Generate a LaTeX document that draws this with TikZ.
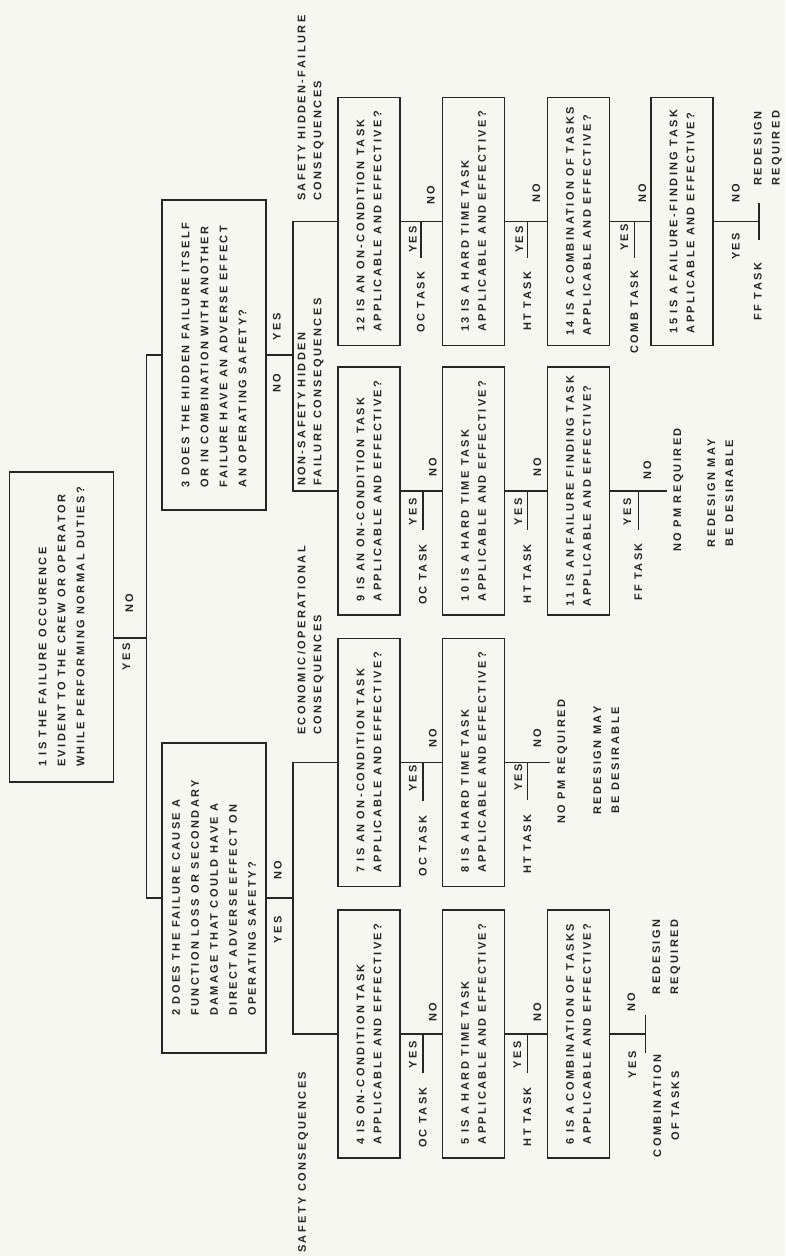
\documentclass[tikz,border=0pt]{standalone}
\usepackage{fontspec}
\newfontfamily\rcmfont[LetterSpace=22]{Liberation Sans Bold}

\begin{document}
\begin{tikzpicture}[x=1pt,y=1pt,
  qbox/.style={draw=drawColor,line width=1.8pt,text=drawColor,rotate=90,align=left,
    font=\rcmfont\fontsize{11}{19}\selectfont,inner sep=0pt,
    minimum width=310pt,minimum height=104pt},
  tbox/.style={draw=drawColor,line width=1.8pt,text=drawColor,rotate=90,align=left,
    font=\rcmfont\fontsize{11}{17}\selectfont,inner sep=0pt,
    minimum width=248pt,minimum height=62pt},
  lbl/.style={text=drawColor,rotate=90,inner sep=0pt,
    font=\rcmfont\fontsize{11}{16}\selectfont},
  outc/.style={lbl,align=center,font=\rcmfont\fontsize{11}{18}\selectfont},
  wire/.style={draw=drawColor,line width=1.8pt}]
\definecolor{fillColor}{RGB}{247,247,242}
\definecolor{drawColor}{RGB}{38,38,38}
\path[use as bounding box,fill=fillColor] (0,0) rectangle (785,1256);

% questions
\node[qbox] (q1) at ( 61.5,629) {1 IS THE FAILURE OCCURENCE\\EVIDENT TO THE CREW OR OPERATOR\\WHILE PERFORMING NORMAL DUTIES?};
\node[qbox] (q2) at (214,358) {2 DOES THE FAILURE CAUSE A\\FUNCTION LOSS OR SECONDARY\\DAMAGE THAT COULD HAVE A\\DIRECT ADVERSE EFFECT ON\\OPERATING SAFETY?};
\node[qbox] (q3) at (214,901) {3 DOES THE HIDDEN FAILURE ITSELF\\OR IN COMBINATION WITH ANOTHER\\FAILURE HAVE AN ADVERSE EFFECT\\AN OPERATING SAFETY?};

% headings
\node[lbl,anchor=west] (hA) at (303,3) {SAFETY CONSEQUENCES};
\node[lbl,anchor=west,align=left] (hB) at (310.5,521) {ECONOMIC/OPERATIONAL\\CONSEQUENCES};
\node[lbl,anchor=west,align=left] (hC) at (310.5,770) {NON-SAFETY HIDDEN\\FAILURE CONSEQUENCES};
\node[lbl,anchor=west,align=left] (hD) at (310.5,1055) {SAFETY HIDDEN-FAILURE\\CONSEQUENCES};

% tasks
\node[tbox] (b4) at (369,222) {4 IS ON-CONDITION TASK\\APPLICABLE AND EFFECTIVE?};
\node[tbox] (b5) at (473.5,222) {5 IS A HARD TIME TASK\\APPLICABLE AND EFFECTIVE?};
\node[tbox] (b6) at (578.5,222) {6 IS A COMBINATION OF TASKS\\APPLICABLE AND EFFECTIVE?};
\node[tbox] (b7) at (369,493.5) {7 IS AN ON-CONDITION TASK\\APPLICABLE AND EFFECTIVE?};
\node[tbox] (b8) at (473.5,493.5) {8 IS A HARD TIME TASK\\APPLICABLE AND EFFECTIVE?};
\node[tbox] (b9) at (369,765) {9 IS AN ON-CONDITION TASK\\APPLICABLE AND EFFECTIVE?};
\node[tbox] (b10) at (473.5,765) {10 IS A HARD TIME TASK\\APPLICABLE AND EFFECTIVE?};
\node[tbox] (b11) at (578.5,765) {11 IS AN FAILURE FINDING TASK\\APPLICABLE AND EFFECTIVE?};
\node[tbox] (b12) at (369,1034.5) {12 IS AN ON-CONDITION TASK\\APPLICABLE AND EFFECTIVE?};
\node[tbox] (b13) at (473.5,1034.5) {13 IS A HARD TIME TASK\\APPLICABLE AND EFFECTIVE?};
\node[tbox] (b14) at (578.5,1034.5) {14 IS A COMBINATION OF TASKS\\APPLICABLE AND EFFECTIVE?};
\node[tbox] (b15) at (682,1034.5) {15 IS A FAILURE-FINDING TASK\\APPLICABLE AND EFFECTIVE?};

% question 1
\coordinate (t1) at ([yshift=-11pt]q1.south);
\path[wire] (t1) -- ++(32,0) coordinate (j1);
\path[wire] (q2.north) -- (q2.north -| j1) -- (q3.north -| j1) -- (q3.north);
\node[lbl] (y1) at ([xshift=12pt,yshift=-19pt]t1) {YES};
\node[lbl] (n1) at ([xshift=15pt,yshift=35pt]t1) {NO};

% question 2
\path[wire] (q2.south) -- ++(26,0) coordinate (j2);
\path[wire] (b4.north) -- (b4.north -| j2) -- (b7.north -| j2) -- (b7.north);
\node[lbl] (y2) at ([xshift=11pt,yshift=-32pt]q2.south) {YES};
\node[lbl] (n2) at ([xshift=11pt,yshift=28pt]q2.south) {NO};

% question 3
\path[wire] (q3.south) -- ++(26,0) coordinate (j3);
\path[wire] (b9.north) -- (b9.north -| j3) -- (b12.north -| j3) -- (b12.north);
\node[lbl] (y3) at ([xshift=10pt,yshift=28pt]q3.south) {YES};
\node[lbl] (n3) at ([xshift=10pt,yshift=-28pt]q3.south) {NO};

% safety consequences
\path[wire] (b4.south) -- (b5.north);
\path[wire] ([xshift=22pt]b4.south) -- ++(0,-39) coordinate (s4);
\node[lbl] (y4) at ([xshift=12pt,yshift=-21pt]b4.south) {YES};
\node[lbl] (n4) at ([xshift=32pt,yshift=22pt]b4.south) {NO};
\node[lbl,anchor=east] (k4) at ([yshift=-14pt]s4) {OC TASK};

\path[wire] (b5.south) -- (b6.north);
\path[wire] ([xshift=22pt]b5.south) -- ++(0,-39) coordinate (s5);
\node[lbl] (y5) at ([xshift=12pt,yshift=-21pt]b5.south) {YES};
\node[lbl] (n5) at ([xshift=32pt,yshift=22pt]b5.south) {NO};
\node[lbl,anchor=east] (k5) at ([yshift=-14pt]s5) {HT TASK};

\path[wire] (b6.south) -- ++(35,0) coordinate (e6);
\path[wire] ([yshift=-19pt]e6) -- ([yshift=19pt]e6);
\node[lbl] (y6) at ([xshift=22pt,yshift=-31pt]b6.south) {YES};
\node[lbl] (n6) at ([xshift=21pt,yshift=32pt]b6.south) {NO};
\node[outc] (o6a) at ([xshift=21pt,yshift=-72pt]e6) {COMBINATION\\OF TASKS};
\node[outc] (o6b) at ([xshift=21pt,yshift=77pt]e6) {REDESIGN\\REQUIRED};

% economic/operational consequences
\path[wire] (b7.south) -- (b8.north);
\path[wire] ([xshift=22pt]b7.south) -- ++(0,-39) coordinate (s7);
\node[lbl] (y7) at ([xshift=12pt,yshift=-16pt]b7.south) {YES};
\node[lbl] (n7) at ([xshift=32pt,yshift=24pt]b7.south) {NO};
\node[lbl,anchor=east] (k7) at ([yshift=-14pt]s7) {OC TASK};

\path[wire] (b8.south) -- ++(45,0) coordinate (e8);
\path[wire] ([xshift=22pt]b8.south) -- ++(0,-38) coordinate (s8);
\node[lbl] (y8) at ([xshift=13pt,yshift=-15pt]b8.south) {YES};
\node[lbl] (n8) at ([xshift=32pt,yshift=24pt]b8.south) {NO};
\node[lbl,anchor=east] (k8) at ([yshift=-14pt]s8) {HT TASK};
\node[lbl] (o8a) at ([xshift=12pt,yshift=1pt]e8) {NO PM REQUIRED};
\node[outc] (o8b) at ([xshift=56pt,yshift=2pt]e8) {REDESIGN MAY\\BE DESIRABLE};

% non-safety hidden failure consequences
\path[wire] (b9.south) -- (b10.north);
\path[wire] ([xshift=22pt]b9.south) -- ++(0,-39) coordinate (s9);
\node[lbl] (y9) at ([xshift=12pt,yshift=-21pt]b9.south) {YES};
\node[lbl] (n9) at ([xshift=32pt,yshift=24pt]b9.south) {NO};
\node[lbl,anchor=east] (k9) at ([yshift=-14pt]s9) {OC TASK};

\path[wire] (b10.south) -- (b11.north);
\path[wire] ([xshift=22pt]b10.south) -- ++(0,-39) coordinate (s10);
\node[lbl] (y10) at ([xshift=13pt,yshift=-21pt]b10.south) {YES};
\node[lbl] (n10) at ([xshift=32pt,yshift=24pt]b10.south) {NO};
\node[lbl,anchor=east] (k10) at ([yshift=-14pt]s10) {HT TASK};

\path[wire] (b11.south) -- ++(57,0) coordinate (e11);
\path[wire] ([xshift=28pt]b11.south) -- ++(0,-39) coordinate (s11);
\node[lbl] (y11) at ([xshift=17pt,yshift=-21pt]b11.south) {YES};
\node[lbl] (n11) at ([xshift=37pt,yshift=21pt]b11.south) {NO};
\node[lbl,anchor=east] (k11) at ([yshift=-13pt]s11) {FF TASK};
\node[lbl] (o11a) at ([xshift=11pt,yshift=1pt]e11) {NO PM REQUIRED};
\node[outc] (o11b) at ([xshift=53pt,yshift=-2pt]e11) {REDESIGN MAY\\BE DESIRABLE};

% safety hidden-failure consequences
\path[wire] (b12.south) -- (b13.north);
\path[wire] ([xshift=20pt]b12.south) -- ++(0,-37) coordinate (s12);
\node[lbl] (y12) at ([xshift=12pt,yshift=-18pt]b12.south) {YES};
\node[lbl] (n12) at ([xshift=30pt,yshift=26pt]b12.south) {NO};
\node[lbl,anchor=east] (k12) at ([yshift=-13pt]s12) {OC TASK};

\path[wire] (b13.south) -- (b14.north);
\path[wire] ([xshift=22pt]b13.south) -- ++(0,-37) coordinate (s13);
\node[lbl] (y13) at ([xshift=14pt,yshift=-18pt]b13.south) {YES};
\node[lbl] (n13) at ([xshift=31pt,yshift=28pt]b13.south) {NO};
\node[lbl,anchor=east] (k13) at ([yshift=-13pt]s13) {HT TASK};

\path[wire] (b14.south) -- (b15.north);
\path[wire] ([xshift=24pt]b14.south) -- ++(0,-37) coordinate (s14);
\node[lbl] (y14) at ([xshift=14pt,yshift=-16pt]b14.south) {YES};
\node[lbl] (n14) at ([xshift=32pt,yshift=28pt]b14.south) {NO};
\node[lbl,anchor=east] (k14) at ([yshift=-12pt]s14) {COMB TASK};

\path[wire] (b15.south) -- ++(45,0) coordinate (e15);
\path[wire] ([yshift=-18.5pt]e15) -- ([yshift=18.5pt]e15);
\node[lbl] (y15) at ([xshift=22pt,yshift=-25pt]b15.south) {YES};
\node[lbl] (n15) at ([xshift=22pt,yshift=28pt]b15.south) {NO};
\node[lbl,anchor=east] (o15a) at ([xshift=-1pt,yshift=-41pt]e15) {FF TASK};
\node[outc] (o15b) at ([xshift=9pt,yshift=73pt]e15) {REDESIGN\\REQUIRED};
\end{tikzpicture}
\end{document}
